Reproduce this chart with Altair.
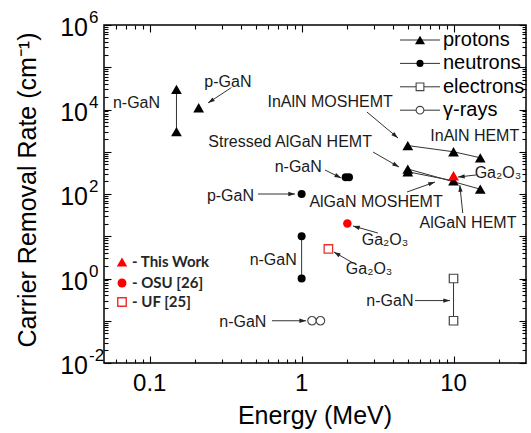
import math

import altair as alt
import pandas as pd

FONT = "Liberation Sans"
W, H = 422, 338
X_DOMAIN = [0.05, 30]
Y_DOMAIN = [1e-2, 1e6]

# ---- carrier removal rates (cm^-1) versus particle energy (MeV) ----
# protons: filled triangles
proton_energy = [0.15, 0.15, 0.21, 5, 10, 15, 5, 5, 10, 15]
proton_rate = [3.0e4, 3.0e3, 1.1e4, 1400, 1000, 720, 390, 335, 205, 130]
# neutrons: filled circles
neutron_energy = [1, 1, 1, 1.95, 2.05]
neutron_rate = [100, 10, 1, 250, 250]
# electrons: open squares
electron_energy = [10, 10]
electron_rate = [1, 0.1]
# gamma rays (Co-60 lines): open circles
gamma_energy = [1.17, 1.33]
gamma_rate = [0.1, 0.1]
# Ga2O3 results
this_work_energy, this_work_rate = [10], [270]
osu_energy, osu_rate = [2], [20]
uf_energy, uf_rate = [1.5], [5]

# segments joining results of one device / material
link_series = ["p-nGaN", "p-nGaN", "InAlN", "InAlN", "InAlN", "stressed", "stressed",
               "AlGaN", "AlGaN", "n-nGaN", "n-nGaN", "e-nGaN", "e-nGaN"]
link_energy = [0.15, 0.15, 5, 10, 15, 5, 15, 5, 10, 1, 1, 10, 10]
link_rate = [3.0e4, 3.0e3, 1400, 1000, 720, 390, 130, 335, 205, 10, 1, 1, 0.1]

# annotation labels (centre of text)
GA2O3 = "Ga\u2082O\u2083"
note_text = ["n-GaN", "p-GaN", "InAlN MOSHEMT", "InAlN HEMT", "Stressed AlGaN HEMT",
             "n-GaN", "p-GaN", "AlGaN MOSHEMT", GA2O3, "AlGaN HEMT", GA2O3, GA2O3,
             "n-GaN", "n-GaN", "n-GaN"]
note_energy = [0.0818, 0.327, 1.54, 13.8, 0.84, 0.95, 0.34, 3.09, 19.6, 12.45, 3.54,
               2.78, 0.65, 3.81, 0.41]
note_rate = [1.43e4, 4.5e4, 1.5e4, 2360, 1700, 435, 90, 65, 314, 20.6, 8.15, 1.68,
             2.74, 0.3, 0.092]

# pointer arrows: tail -> head
arrow_energy0 = [0.345, 2.69, 2.95, 1.425, 0.516, 4.94, 14.06, 11.5, 3.18, 2.18, 5.58, 0.638]
arrow_rate0 = [3.3e4, 8730, 986, 370, 100, 111.5, 282, 35.5, 11.9, 2.33, 0.3, 0.1]
arrow_energy1 = [0.242, 4.31, 4.375, 1.82, 0.905, 7.55, 10.7, 11.0, 2.18, 1.63, 9.48, 1.07]
arrow_rate1 = [1.43e4, 2115, 435, 239, 100, 192, 252, 163, 17.5, 4.24, 0.3, 0.1]

# axis ticks
x_major = [0.1, 1, 10]
x_major_labels = ["0.1", "1", "10"]
x_minor = [0.06, 0.07, 0.08, 0.09, 0.2, 0.3, 0.4, 0.5, 0.6, 0.7, 0.8, 0.9,
           2, 3, 4, 5, 6, 7, 8, 9, 20]
y_major = [10.0 ** e for e in range(-2, 7)]
y_minor = [m * 10.0 ** e for e in range(-2, 6) for m in range(2, 10)]
y_label_exp = ["-2", "0", "2", "4", "6"]

legend_names = ["protons", "neutrons", "electrons", "\u03b3-rays"]
source_names = ["- This Work", "- OSU [26]", "- UF [25]"]

x_scale = alt.Scale(type="log", domain=X_DOMAIN, nice=False)
y_scale = alt.Scale(type="log", domain=Y_DOMAIN, nice=False)


def tick_axis(orient, values, size):
    # ticks drawn inward: axis shifted inside the frame by its tick length
    return alt.Axis(orient=orient, values=values, tickSize=size, offset=-size,
                    labels=False, domain=False, grid=False, title=None,
                    tickColor="black", tickWidth=1.1)


x_axes = [tick_axis("bottom", x_major, 7), tick_axis("bottom", x_minor, 4),
          tick_axis("top", x_major, 7), tick_axis("top", x_minor, 4)]
y_axes = [tick_axis("left", y_major, 7), tick_axis("left", y_minor, 4),
          tick_axis("right", y_major, 7), tick_axis("right", y_minor, 4)]


def pos(x_axis=None, y_axis=None):
    return dict(
        x=alt.X("energy:Q", scale=x_scale, axis=x_axis),
        y=alt.Y("rate:Q", scale=y_scale, axis=y_axis),
    )


def frame(energy, rate, **extra):
    return pd.DataFrame({"energy": energy, "rate": rate, **extra})


links = alt.Chart(frame(link_energy, link_rate, series=link_series,
                        idx=list(range(len(link_energy))))).mark_line(
    color="#333", strokeWidth=1).encode(
    **pos(x_axes[0], y_axes[0]), detail="series:N", order="idx:Q")

protons = alt.Chart(frame(proton_energy, proton_rate)).mark_point(
    shape="triangle-up", filled=True, color="black", size=115, opacity=1).encode(
    **pos(x_axes[1], y_axes[1]))

neutrons = alt.Chart(frame(neutron_energy, neutron_rate)).mark_point(
    shape="circle", filled=True, color="black", size=64, opacity=1).encode(
    **pos(x_axes[2], y_axes[2]))

electrons = alt.Chart(frame(electron_energy, electron_rate)).mark_point(
    shape="square", filled=True, fill="white", stroke="#444", strokeWidth=1.2,
    size=72, opacity=1).encode(**pos(x_axes[3], y_axes[3]))

gammas = alt.Chart(frame(gamma_energy, gamma_rate)).mark_point(
    shape="circle", filled=True, fill="white", stroke="#444", strokeWidth=1.1,
    size=72, opacity=1).encode(**pos())

this_work = alt.Chart(frame(this_work_energy, this_work_rate)).mark_point(
    shape="triangle-up", filled=True, color="#ff0000", size=120, opacity=1).encode(**pos())

osu = alt.Chart(frame(osu_energy, osu_rate)).mark_point(
    shape="circle", filled=True, color="#ff0000", size=72, opacity=1).encode(**pos())

uf = alt.Chart(frame(uf_energy, uf_rate)).mark_point(
    shape="square", filled=True, fill="white", stroke="#e83030", strokeWidth=1.3,
    size=72, opacity=1).encode(**pos())

# arrow directions in screen space
px_per_decade_x = W / math.log10(X_DOMAIN[1] / X_DOMAIN[0])
px_per_decade_y = H / math.log10(Y_DOMAIN[1] / Y_DOMAIN[0])
head_angle = []
for e0, r0, e1, r1 in zip(arrow_energy0, arrow_rate0, arrow_energy1, arrow_rate1):
    dx = math.log10(e1 / e0) * px_per_decade_x
    dy = -math.log10(r1 / r0) * px_per_decade_y
    head_angle.append(math.degrees(math.atan2(dx, -dy)) % 360)

arrow_df = pd.DataFrame({"energy": arrow_energy0, "rate": arrow_rate0,
                         "energy2": arrow_energy1, "rate2": arrow_rate1,
                         "angle": head_angle})

arrow_lines = alt.Chart(arrow_df).mark_rule(color="#333", strokeWidth=1).encode(
    **pos(), x2="energy2:Q", y2="rate2:Q")

arrow_heads = alt.Chart(arrow_df).mark_point(
    shape="M0,0L-0.32,1L0.32,1Z", filled=True, color="#222", size=180, opacity=1).encode(
    x=alt.X("energy2:Q", scale=x_scale, axis=None),
    y=alt.Y("rate2:Q", scale=y_scale, axis=None),
    angle=alt.Angle("angle:Q", scale=None))

notes = alt.Chart(frame(note_energy, note_rate, text=note_text)).mark_text(
    font=FONT, fontSize=16, color="#1a1a1a", baseline="middle", align="center").encode(
    **pos(), text="text:N")

# y tick labels: "10" with raised exponent
y_lab_df = pd.DataFrame({"rate": [10.0 ** int(e) for e in y_label_exp], "exp": y_label_exp})
y_lab_base = alt.Chart(y_lab_df).mark_text(
    font=FONT, fontSize=25, align="right", baseline="middle", dy=3, color="black").encode(
    x=alt.value(-16), y=alt.Y("rate:Q", scale=y_scale, axis=None), text=alt.value("10"))
y_lab_exp = alt.Chart(y_lab_df).mark_text(
    font=FONT, fontSize=17, align="left", baseline="middle", dy=-7, color="black").encode(
    x=alt.value(-15), y=alt.Y("rate:Q", scale=y_scale, axis=None), text="exp:N")

x_lab = alt.Chart(pd.DataFrame({"energy": x_major, "label": x_major_labels})).mark_text(
    font=FONT, fontSize=24, baseline="middle", align="center", color="black").encode(
    x=alt.X("energy:Q", scale=x_scale, axis=None), y=alt.value(H + 21), text="label:N")

one = pd.DataFrame({"k": [0]})
x_title = alt.Chart(one).mark_text(
    font=FONT, fontSize=25, baseline="middle", align="center", color="black").encode(
    x=alt.value(W / 2), y=alt.value(H + 53), text=alt.value("Energy (MeV)"))
y_title = alt.Chart(one).mark_text(
    font=FONT, fontSize=25, baseline="middle", align="center", angle=270,
    color="black").encode(
    x=alt.value(-76), y=alt.value(H / 2 - 4),
    text=alt.value("Carrier Removal Rate (cm\u207b\u00b9)"))

# particle legend, top right
legend_layers = []
legend_marks = [
    dict(shape="triangle-up", filled=True, color="black", size=100),
    dict(shape="circle", filled=True, color="black", size=50),
    dict(shape="square", filled=True, fill="white", stroke="#444", strokeWidth=1.1, size=60),
    dict(shape="circle", filled=True, fill="white", stroke="#444", strokeWidth=1.1, size=60),
]
row0, row_step = 15, 23.4
for i, (name, style) in enumerate(zip(legend_names, legend_marks)):
    ry = row0 + i * row_step
    legend_layers.append(alt.Chart(one).mark_rule(color="#333", strokeWidth=1).encode(
        x=alt.value(296), x2=alt.value(336), y=alt.value(ry)))
    legend_layers.append(alt.Chart(one).mark_point(opacity=1, **style).encode(
        x=alt.value(316), y=alt.value(ry)))
    legend_layers.append(alt.Chart(one).mark_text(
        font=FONT, fontSize=20, align="left", baseline="middle", color="black").encode(
        x=alt.value(339), y=alt.value(ry), text=alt.value(name)))

# Ga2O3 source key, lower left
source_marks = [
    dict(shape="triangle-up", filled=True, color="#ff0000", size=110),
    dict(shape="circle", filled=True, color="#ff0000", size=80),
    dict(shape="square", filled=True, fill="white", stroke="#e83030", strokeWidth=1.4, size=72),
]
src_y = [237, 258, 277]
for name, style, ry in zip(source_names, source_marks, src_y):
    legend_layers.append(alt.Chart(one).mark_point(opacity=1, **style).encode(
        x=alt.value(18), y=alt.value(ry)))
    legend_layers.append(alt.Chart(one).mark_text(
        font="Lato", fontSize=15, fontWeight="bold", align="left", baseline="middle",
        color="#262626").encode(x=alt.value(28), y=alt.value(ry), text=alt.value(name)))

chart = alt.layer(
    links, protons, neutrons, electrons, gammas, this_work, osu, uf,
    arrow_lines, arrow_heads, notes, y_lab_base, y_lab_exp, x_lab, x_title, y_title,
    *legend_layers,
).resolve_axis(x="independent", y="independent").properties(
    width=W, height=H,
    autosize=alt.AutoSizeParams(type="none"),
    padding={"left": 104, "top": 25, "right": 5, "bottom": 70},
).configure_view(stroke="black", strokeWidth=1.5)

chart.save("out.html", embed_options={"renderer": "svg", "actions": False})
